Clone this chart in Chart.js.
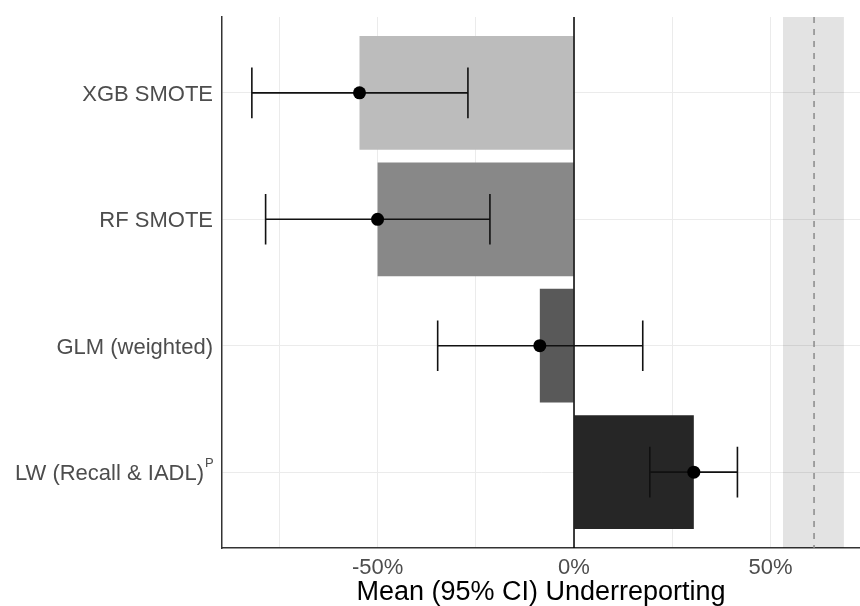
<!DOCTYPE html>
<html>
<head>
<meta charset="utf-8">
<script src="https://cdn.jsdelivr.net/npm/chart.js@4.4.1/dist/chart.umd.min.js"></script>
<style>
  html, body { margin: 0; padding: 0; background: #fff; }
  #wrap { width: 860px; height: 606px; }
</style>
</head>
<body>
<div id="wrap"><canvas id="chart"></canvas></div>
<script>
// models, top to bottom
const models = ['XGB SMOTE', 'RF SMOTE', 'GLM (weighted)', 'LW (Recall & IADL)'];
const superscripts = ['', '', '', 'P'];
// mean underreporting (%) and 95% CI
const means = [-54.6, -50.0, -8.7, 30.5];
const ciLow = [-82.0, -78.5, -34.7, 19.3];
const ciHigh = [-27.0, -21.4, 17.5, 41.6];
const barColors = ['#bcbcbc', '#888888', '#595959', '#262626'];
// reference band and dashed line (%)
const refBand = [53.2, 68.7];
const refLine = 61.1;
const xTicks = [-75, -50, -25, 0, 25, 50];

const FONT = '"Liberation Sans", Arial, Helvetica, sans-serif';

const overlay = {
    id: 'overlay',
    beforeDatasetsDraw(chart) {
        const {ctx, chartArea, scales: {x}} = chart;
        ctx.save();
        ctx.fillStyle = 'rgba(0,0,0,0.11)';
        const x0 = x.getPixelForValue(refBand[0]);
        const x1 = x.getPixelForValue(refBand[1]);
        ctx.fillRect(x0, chartArea.top, x1 - x0, chartArea.bottom - chartArea.top);
        ctx.strokeStyle = '#8a8a8a';
        ctx.lineWidth = 1.5;
        ctx.setLineDash([6, 6]);
        const xr = x.getPixelForValue(refLine);
        ctx.beginPath();
        ctx.moveTo(xr, chartArea.top);
        ctx.lineTo(xr, chartArea.bottom);
        ctx.stroke();
        ctx.restore();
    },
    beforeDatasetDraw(chart, args) {
        if (args.index !== 1) return;
        const {ctx, chartArea, scales: {x, y}} = chart;
        ctx.save();
        // zero line
        ctx.strokeStyle = '#000';
        ctx.lineWidth = 1.5;
        const xz = x.getPixelForValue(0);
        ctx.beginPath();
        ctx.moveTo(xz, chartArea.top);
        ctx.lineTo(xz, chartArea.bottom);
        ctx.stroke();
        // error bars
        ctx.strokeStyle = '#111';
        ctx.lineWidth = 1.6;
        models.forEach((m, i) => {
            const yc = y.getPixelForValue(i + 1);
            const yt = y.getPixelForValue(i + 0.8);
            const yb = y.getPixelForValue(i + 1.2);
            const xl = x.getPixelForValue(ciLow[i]);
            const xh = x.getPixelForValue(ciHigh[i]);
            ctx.beginPath();
            ctx.moveTo(xl, yc); ctx.lineTo(xh, yc);
            ctx.moveTo(xl, yt); ctx.lineTo(xl, yb);
            ctx.moveTo(xh, yt); ctx.lineTo(xh, yb);
            ctx.stroke();
        });
        ctx.restore();
    },
    afterDraw(chart) {
        const {ctx, scales: {y}} = chart;
        ctx.save();
        ctx.fillStyle = '#4d4d4d';
        ctx.textBaseline = 'alphabetic';
        models.forEach((m, i) => {
            const yb = y.getPixelForValue(i + 1) + 8;
            ctx.font = '22px ' + FONT;
            if (superscripts[i]) {
                ctx.textAlign = 'right';
                ctx.fillText(m, 204, yb);
                ctx.font = '13px ' + FONT;
                ctx.textAlign = 'left';
                ctx.fillText(superscripts[i], 205, yb - 13);
            } else {
                ctx.textAlign = 'right';
                ctx.fillText(m, 213, yb);
            }
        });
        ctx.restore();
    }
};

new Chart(document.getElementById('chart'), {
    type: 'bar',
    data: {
        datasets: [{
            type: 'bar',
            data: means.map((v, i) => ({x: v, y: i + 1})),
            backgroundColor: barColors,
            borderWidth: 0,
            categoryPercentage: 1,
            barPercentage: 0.9,
            order: 1
        }, {
            type: 'scatter',
            data: means.map((v, i) => ({x: v, y: i + 1})),
            pointRadius: 6.5,
            pointBackgroundColor: '#000',
            pointBorderWidth: 0,
            order: 0
        }]
    },
    options: {
        indexAxis: 'y',
        responsive: true,
        maintainAspectRatio: false,
        animation: false,
        layout: { autoPadding: false, padding: { left: 222, right: 0, top: 17, bottom: 0 } },
        plugins: { legend: { display: false }, tooltip: { enabled: false } },
        scales: {
            x: {
                type: 'linear',
                position: 'bottom',
                min: -89.6,
                max: 72.8,
                afterBuildTicks: s => { s.ticks = xTicks.map(v => ({value: v})); },
                grid: { color: '#ebebeb', lineWidth: 1, drawTicks: false },
                border: { display: true, color: '#333', width: 1.5 },
                ticks: {
                    callback: v => (v % 50 === 0 ? v + '%' : ''),
                    color: '#4d4d4d',
                    font: { family: FONT, size: 22, lineHeight: 1 },
                    padding: 9,
                    maxRotation: 0,
                    autoSkip: false
                },
                title: {
                    display: true,
                    text: 'Mean (95% CI) Underreporting',
                    color: '#000',
                    font: { family: FONT, size: 27, lineHeight: 1 },
                    padding: { top: -9, bottom: 0 }
                }
            },
            y: {
                type: 'linear',
                position: 'left',
                min: 0.4,
                max: 4.6,
                reverse: true,
                offset: false,
                afterBuildTicks: s => { s.ticks = models.map((m, i) => ({value: i + 1})); },
                grid: { color: '#ebebeb', lineWidth: 1, drawTicks: false, offset: false },
                border: { display: true, color: '#333', width: 1.5 },
                ticks: { display: false }
            }
        }
    },
    plugins: [overlay]
});
</script>
</body>
</html>
